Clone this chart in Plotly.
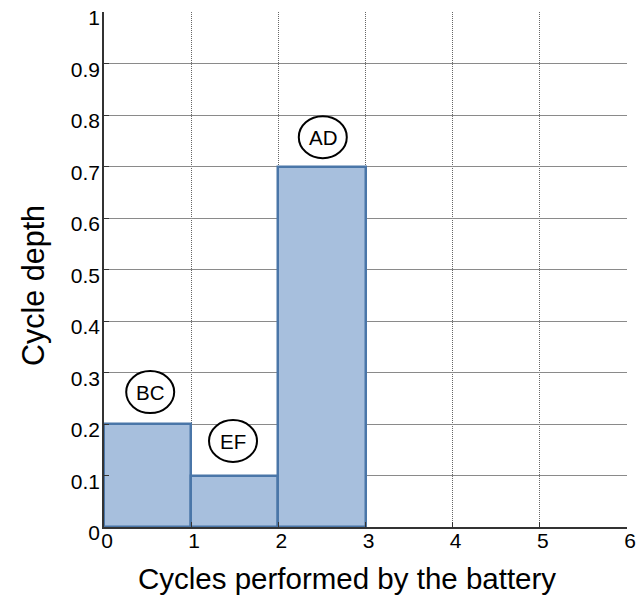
import plotly.graph_objects as go

cycle_centers = [0.5, 1.5, 2.5]
cycle_depths = [0.2, 0.1, 0.7]
cycle_labels = ["BC", "EF", "AD"]
label_x = [0.53, 1.48, 2.51]
label_y = [0.262, 0.167, 0.757]
x_ticks = [0, 1, 2, 3, 4, 5, 6]
y_ticks = [0, 0.1, 0.2, 0.3, 0.4, 0.5, 0.6, 0.7, 0.8, 0.9, 1]
y_tick_text = ["0", "0.1", "0.2", "0.3", "0.4", "0.5", "0.6", "0.7", "0.8", "0.9", "1"]
x_title = "Cycles performed by the battery"
y_title = "Cycle depth"

font_family = "Liberation Sans, Arial, sans-serif"

fig = go.Figure()
fig.add_trace(go.Bar(
    x=cycle_centers, y=cycle_depths, width=1,
    marker=dict(color="#A7BFDD", line=dict(color="#4A76A8", width=2.5)),
    showlegend=False, hoverinfo="skip",
))

for lx, ly, lab in zip(label_x, label_y, cycle_labels):
    fig.add_shape(type="circle", xref="x", yref="y", xsizemode="pixel", ysizemode="pixel",
                  xanchor=lx, yanchor=ly, x0=-24, x1=24, y0=-21, y1=21,
                  line=dict(color="black", width=2), fillcolor="white", layer="above")
    fig.add_annotation(x=lx, y=ly, text=lab, showarrow=False,
                       font=dict(size=20.5, color="black", family=font_family))

# axis titles (positioned like the reference)
fig.add_annotation(xref="x", yref="paper", x=2.79, y=0, yanchor="middle", yshift=-51,
                   text=x_title, showarrow=False,
                   font=dict(size=29.5, color="black", family=font_family))
fig.add_annotation(xref="paper", yref="y", x=0, y=0.468, xanchor="center", xshift=-70,
                   text=y_title, textangle=-90, showarrow=False,
                   font=dict(size=30.5, color="black", family=font_family))

fig.update_layout(
    width=636, height=602,
    margin=dict(l=104, r=9, t=12, b=75),
    paper_bgcolor="white", plot_bgcolor="white",
    font=dict(family=font_family, color="black"),
    bargap=0,
    xaxis=dict(range=[0, 6], tickvals=x_ticks, ticktext=[str(v) for v in x_ticks],
               showgrid=True, gridcolor="#666666", gridwidth=1, griddash="1px,1px",
               showline=True, linecolor="#333333", linewidth=1.5, automargin=False,
               zeroline=False, ticks="inside", ticklen=5, tickcolor="#333333",
               tickfont=dict(size=21), ticklabelshift=3, ticklabelstandoff=-6,
               ticklabeloverflow="allow"),
    yaxis=dict(range=[0, 1], tickvals=y_ticks, ticktext=y_tick_text,
               showgrid=True, gridcolor="#8a8a8a", gridwidth=1,
               showline=True, linecolor="#333333", linewidth=1.5, automargin=False,
               zeroline=False, ticks="inside", ticklen=5, tickcolor="#333333",
               tickfont=dict(size=21), ticklabelstandoff=-2, ticklabelshift=6,
               ticklabeloverflow="allow"),
)

fig.write_html("out.html", config={"displayModeBar": False},
               post_script="document.body.style.margin='0';document.body.style.overflow='hidden';")
